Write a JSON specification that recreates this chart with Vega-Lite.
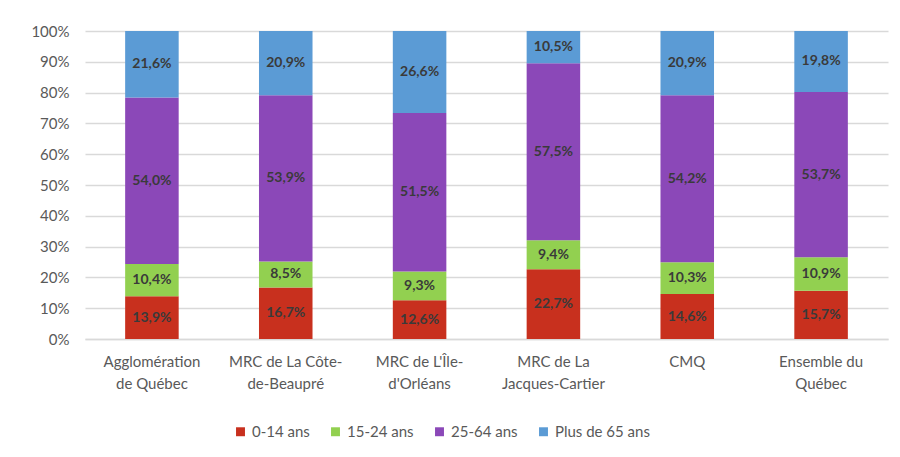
{
  "$schema": "https://vega.github.io/schema/vega-lite/v6.json",
  "width": 803,
  "height": 308,
  "autosize": "none",
  "padding": {"left": 85, "top": 31, "right": 12, "bottom": 118},
  "background": "white",
  "config": {
    "font": "Lato",
    "view": {"stroke": null},
    "locale": {"number": {"decimal": ",", "thousands": " ", "grouping": [3], "currency": ["", " €"]}}
  },
  "data": {
    "values": [
      {"region": "Agglomération de Québec", "groupe": "0-14 ans", "part": 0.139},
      {"region": "Agglomération de Québec", "groupe": "15-24 ans", "part": 0.104},
      {"region": "Agglomération de Québec", "groupe": "25-64 ans", "part": 0.540},
      {"region": "Agglomération de Québec", "groupe": "Plus de 65 ans", "part": 0.216},
      {"region": "MRC de La Côte-de-Beaupré", "groupe": "0-14 ans", "part": 0.167},
      {"region": "MRC de La Côte-de-Beaupré", "groupe": "15-24 ans", "part": 0.085},
      {"region": "MRC de La Côte-de-Beaupré", "groupe": "25-64 ans", "part": 0.539},
      {"region": "MRC de La Côte-de-Beaupré", "groupe": "Plus de 65 ans", "part": 0.209},
      {"region": "MRC de L'Île-d'Orléans", "groupe": "0-14 ans", "part": 0.126},
      {"region": "MRC de L'Île-d'Orléans", "groupe": "15-24 ans", "part": 0.093},
      {"region": "MRC de L'Île-d'Orléans", "groupe": "25-64 ans", "part": 0.515},
      {"region": "MRC de L'Île-d'Orléans", "groupe": "Plus de 65 ans", "part": 0.266},
      {"region": "MRC de La Jacques-Cartier", "groupe": "0-14 ans", "part": 0.227},
      {"region": "MRC de La Jacques-Cartier", "groupe": "15-24 ans", "part": 0.094},
      {"region": "MRC de La Jacques-Cartier", "groupe": "25-64 ans", "part": 0.575},
      {"region": "MRC de La Jacques-Cartier", "groupe": "Plus de 65 ans", "part": 0.105},
      {"region": "CMQ", "groupe": "0-14 ans", "part": 0.146},
      {"region": "CMQ", "groupe": "15-24 ans", "part": 0.103},
      {"region": "CMQ", "groupe": "25-64 ans", "part": 0.542},
      {"region": "CMQ", "groupe": "Plus de 65 ans", "part": 0.209},
      {"region": "Ensemble du Québec", "groupe": "0-14 ans", "part": 0.157},
      {"region": "Ensemble du Québec", "groupe": "15-24 ans", "part": 0.109},
      {"region": "Ensemble du Québec", "groupe": "25-64 ans", "part": 0.537},
      {"region": "Ensemble du Québec", "groupe": "Plus de 65 ans", "part": 0.198}
    ]
  },
  "encoding": {
    "x": {
      "field": "region",
      "type": "nominal",
      "sort": null,
      "scale": {"paddingInner": 0.6, "paddingOuter": 0.3},
      "axis": {
        "title": null,
        "labelAngle": 0,
        "labelFontSize": 15,
        "labelColor": "#595959",
        "labelPadding": 15,
        "labelLineHeight": 22,
        "ticks": false,
        "domainColor": "#d9d9d9",
        "domainWidth": 1.5,
        "labelExpr": "datum.value == 'Agglomération de Québec' ? ['Agglomération', 'de Québec'] : datum.value == 'MRC de La Côte-de-Beaupré' ? ['MRC de La Côte-', 'de-Beaupré'] : datum.value == \"MRC de L'Île-d'Orléans\" ? [\"MRC de L'Île-\", \"d'Orléans\"] : datum.value == 'MRC de La Jacques-Cartier' ? ['MRC de La', 'Jacques-Cartier'] : datum.value == 'Ensemble du Québec' ? ['Ensemble du', 'Québec'] : datum.value"
      }
    },
    "y": {
      "field": "part",
      "type": "quantitative",
      "stack": "normalize",
      "scale": {"domain": [0, 1]},
      "axis": {
        "title": null,
        "format": ".0%",
        "values": [0, 0.1, 0.2, 0.3, 0.4, 0.5, 0.6, 0.7, 0.8, 0.9, 1],
        "labelOverlap": false,
        "labelFontSize": 15,
        "labelColor": "#595959",
        "labelPadding": 16,
        "ticks": false,
        "domain": false,
        "gridColor": "#d9d9d9",
        "gridWidth": 1.5
      }
    },
    "order": {"field": "groupe", "sort": "ascending"}
  },
  "layer": [
    {
      "mark": {"type": "bar"},
      "encoding": {
        "color": {
          "field": "groupe",
          "type": "nominal",
          "scale": {
            "domain": ["0-14 ans", "15-24 ans", "25-64 ans", "Plus de 65 ans"],
            "range": ["#C8301E", "#92D050", "#8B48B8", "#5B9BD5"]
          },
          "legend": {
            "title": null,
            "orient": "none",
            "direction": "horizontal",
            "legendX": 148,
            "legendY": 393,
            "symbolType": "square",
            "symbolSize": 80,
            "symbolStrokeWidth": 0,
            "labelFontSize": 15,
            "labelColor": "#595959",
            "labelOffset": 4,
            "columnPadding": 18
          }
        }
      }
    },
    {
      "mark": {"type": "text", "fontSize": 14, "fontWeight": "bold", "baseline": "middle", "color": "#3a3a3a"},
      "encoding": {
        "y": {"field": "part", "type": "quantitative", "stack": "normalize", "bandPosition": 0.5},
        "detail": {"field": "groupe", "type": "nominal"},
        "text": {"field": "part", "type": "quantitative", "format": ".1%"}
      }
    }
  ]
}
